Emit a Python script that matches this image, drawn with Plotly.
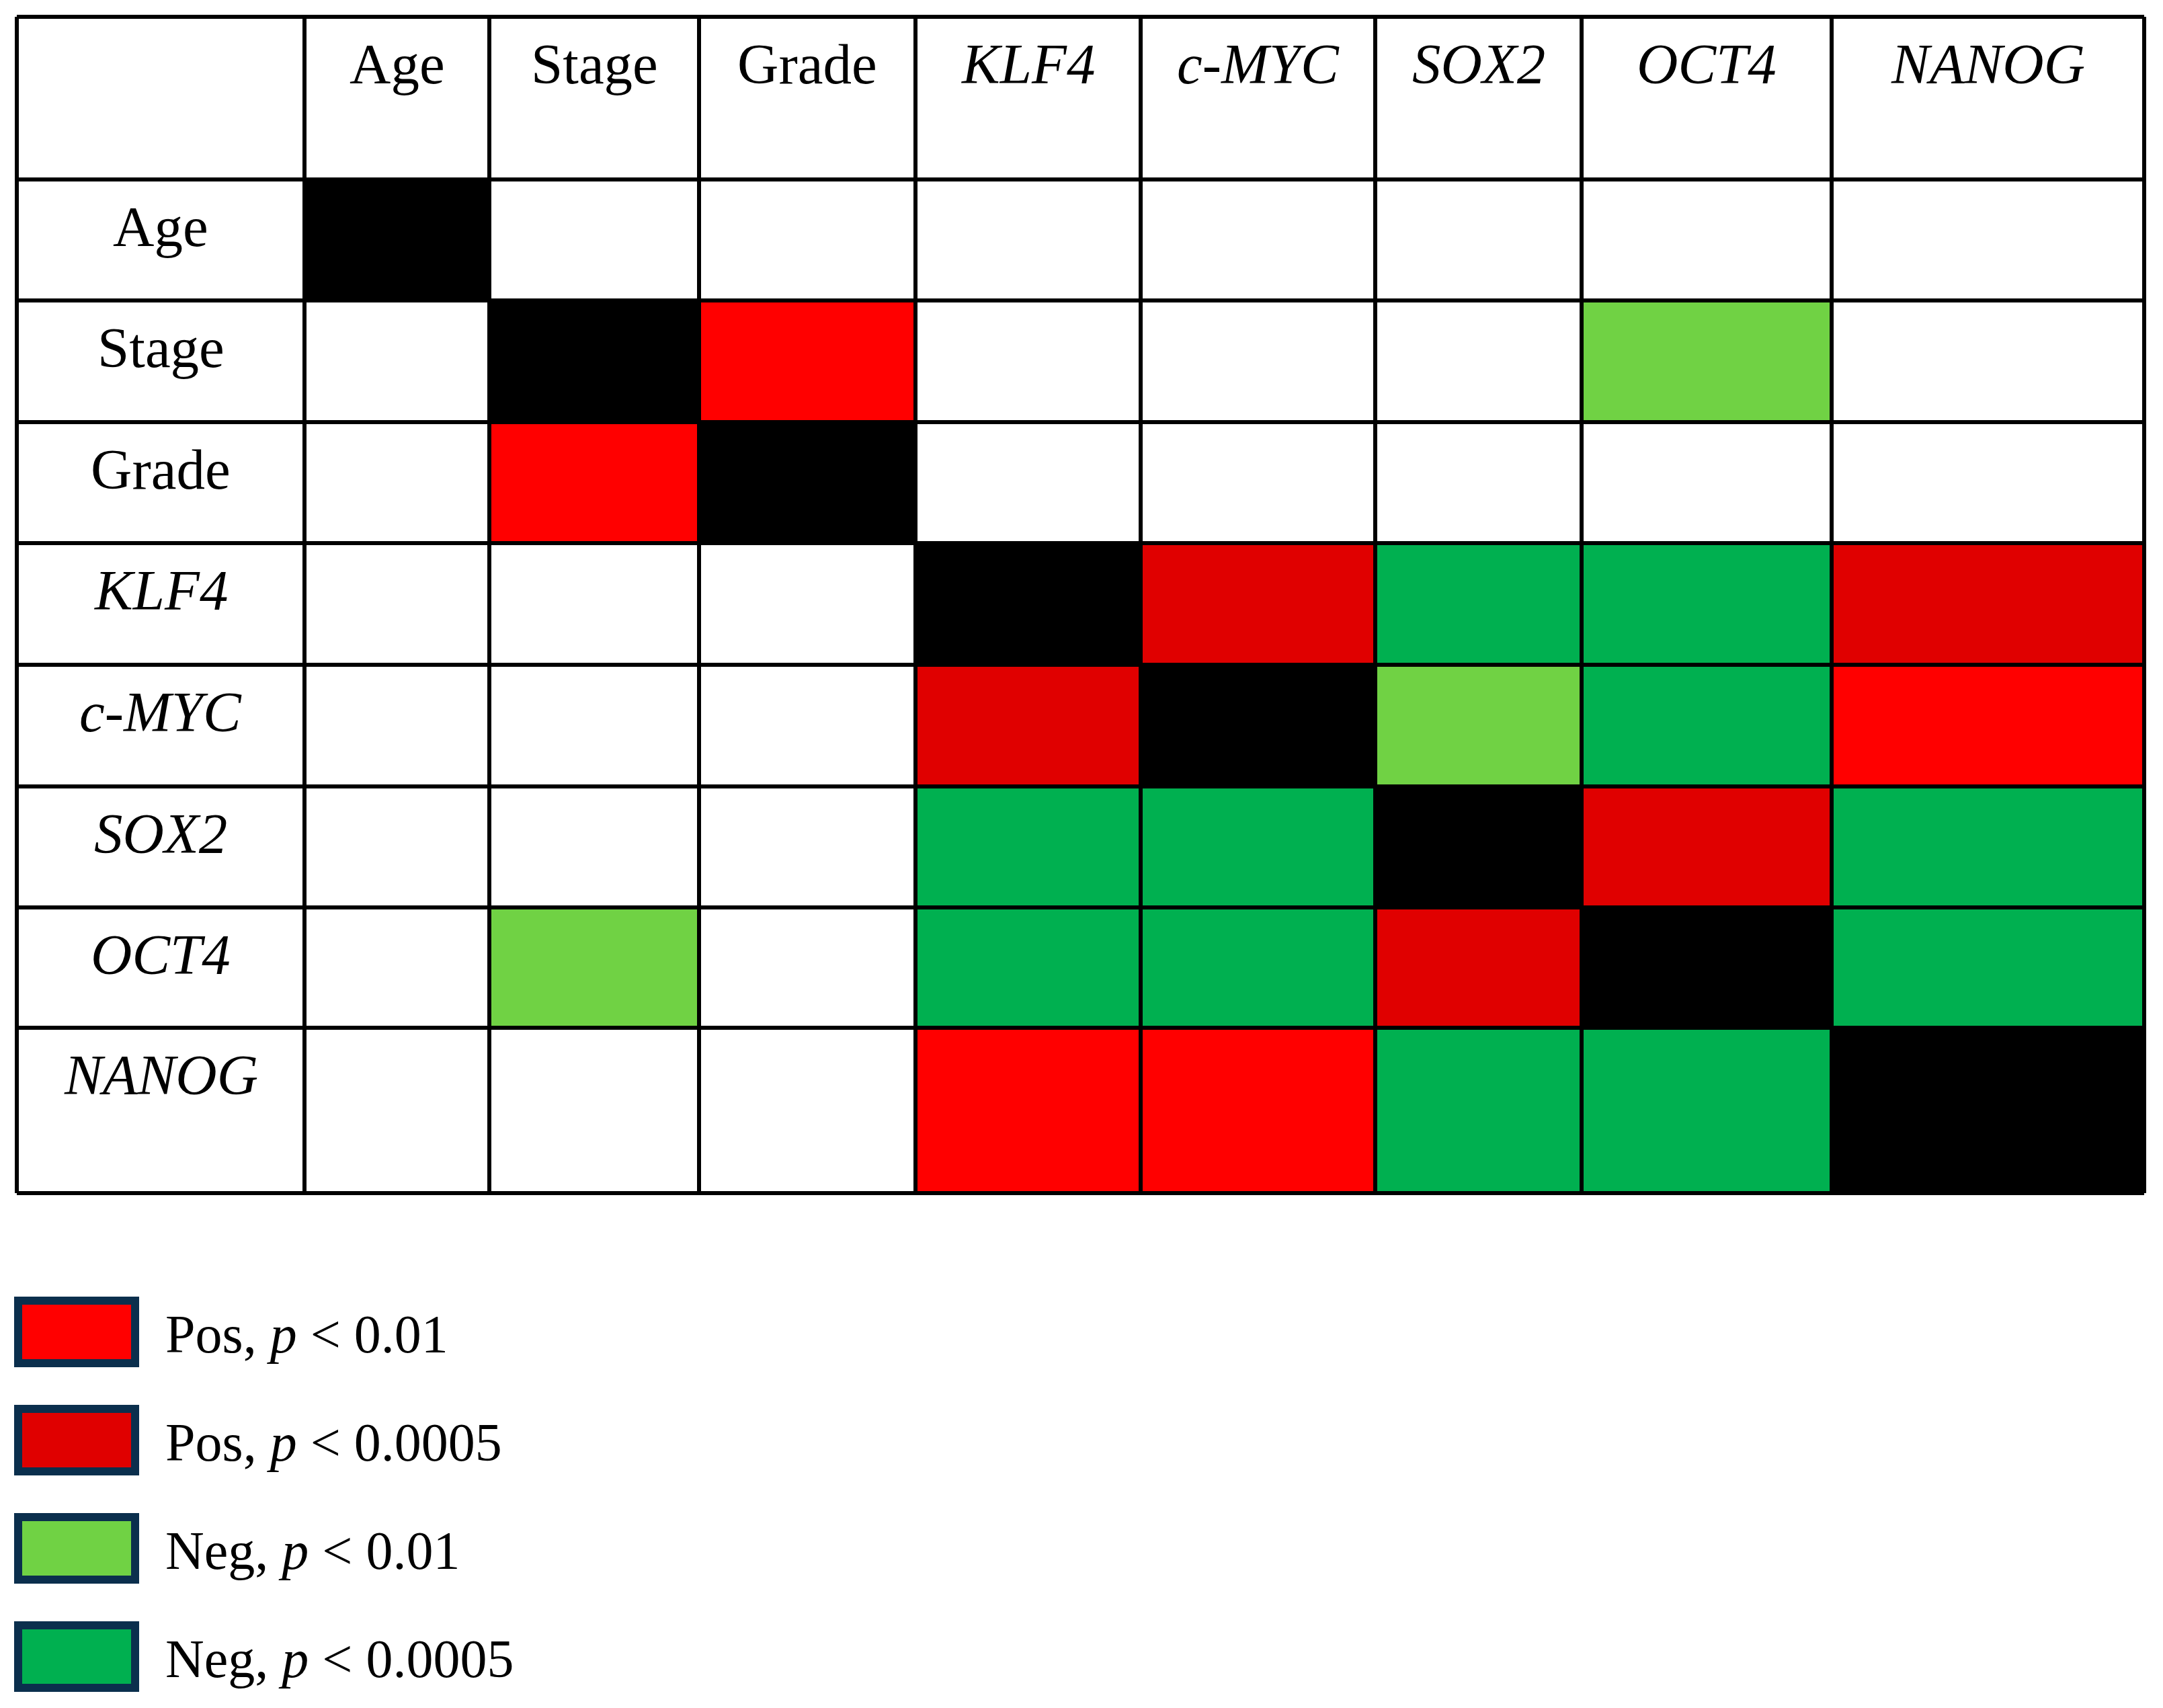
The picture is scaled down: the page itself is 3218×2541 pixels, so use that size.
import plotly.graph_objects as go
import numpy as np

# labels of the table (header row and header column are the same)
labels = ["Age", "Stage", "Grade", "KLF4", "c-MYC", "SOX2", "OCT4", "NANOG"]
italic = [False, False, False, True, True, True, True, True]

# cell codes: 0 none, 1 Pos p<0.01, 2 Pos p<0.0005, 3 Neg p<0.01, 4 Neg p<0.0005, 5 diagonal
codes = [
    [5, 0, 0, 0, 0, 0, 0, 0],
    [0, 5, 1, 0, 0, 0, 3, 0],
    [0, 1, 5, 0, 0, 0, 0, 0],
    [0, 0, 0, 5, 2, 4, 4, 2],
    [0, 0, 0, 2, 5, 3, 4, 1],
    [0, 0, 0, 4, 4, 5, 2, 4],
    [0, 3, 0, 4, 4, 2, 5, 4],
    [0, 0, 0, 1, 1, 4, 4, 5],
]

legend_names = ["Pos, <i>p</i> &lt; 0.01", "Pos, <i>p</i> &lt; 0.0005",
                "Neg, <i>p</i> &lt; 0.01", "Neg, <i>p</i> &lt; 0.0005"]

# colours per code
code_colors = ["#FFFFFF", "#FF0000", "#E00000", "#70D244", "#00B050", "#000000"]

# column widths / row heights in pixels (first = header)
col_w = [428, 275, 312, 322, 335, 349, 307, 372, 465]
row_h = [242, 180, 181, 180, 181, 181, 180, 179, 246]

W, H = 3218, 2541
OFF = 8          # page body margin
FONT = "Liberation Serif"
FS = 85
LW = 6

x_edges = np.concatenate([[0], np.cumsum(col_w)])
y_edges = np.concatenate([[0], np.cumsum(row_h)])
tot_w, tot_h = x_edges[-1], y_edges[-1]

# stepped colour scale for the codes 0..5
n = len(code_colors)
cscale = []
for i, c in enumerate(code_colors):
    cscale.append([i / n, c])
    cscale.append([(i + 1) / n, c])

fig = go.Figure()
fig.add_trace(go.Heatmap(
    z=codes,
    x=x_edges[1:],
    y=y_edges[1:],
    colorscale=cscale,
    zmin=-0.5, zmax=n - 0.5,
    showscale=False,
    hoverinfo="skip",
))

# grid lines
for xe in x_edges:
    fig.add_shape(type="line", x0=xe, x1=xe, y0=0, y1=tot_h,
                  line=dict(color="black", width=LW), layer="above")
for ye in y_edges:
    fig.add_shape(type="line", x0=0, x1=tot_w, y0=ye, y1=ye,
                  line=dict(color="black", width=LW), layer="above")

# header texts
def lab(i):
    return f"<i>{labels[i]}</i>" if italic[i] else labels[i]

for i in range(len(labels)):
    cx = (x_edges[i + 1] + x_edges[i + 2]) / 2
    fig.add_annotation(x=cx, y=70, text=lab(i), showarrow=False,
                       xanchor="center", yanchor="middle")
    cy = y_edges[i + 1] + 70
    fig.add_annotation(x=(x_edges[0] + x_edges[1]) / 2, y=cy, text=lab(i),
                       showarrow=False, xanchor="center", yanchor="middle")

# legend drawn as boxes with labels
leg_cols = code_colors[1:5]
for k, (name, col) in enumerate(zip(legend_names, leg_cols)):
    top = 1935 + k * 161 - OFF
    bot = top + 93
    fig.add_shape(type="rect", xref="paper", yref="paper",
                  x0=(27 - OFF) / W, x1=(201 - OFF) / W,
                  y0=1 - bot / H, y1=1 - top / H,
                  fillcolor=col, line=dict(color="#0B2F4D", width=12))
    fig.add_annotation(xref="paper", yref="paper", x=236 / W,
                       y=1 - (top + 50) / H, text=name, showarrow=False,
                       xanchor="left", yanchor="middle",
                       font=dict(size=80))

pad = 10
x0px = 25 - OFF
y0px = 25 - OFF
fig.update_layout(
    width=W, height=H,
    margin=dict(l=0, r=0, t=0, b=0),
    paper_bgcolor="white", plot_bgcolor="white",
    font=dict(family=FONT, size=FS, color="black"),
    showlegend=False,
    xaxis=dict(range=[-pad, tot_w + pad], visible=False, fixedrange=True,
               domain=[(x0px - pad) / W, (x0px + tot_w + pad) / W]),
    yaxis=dict(range=[tot_h + pad, -pad], visible=False, fixedrange=True,
               domain=[1 - (y0px + tot_h + pad) / H, 1 - (y0px - pad) / H]),
)

fig.write_html("out.html")
